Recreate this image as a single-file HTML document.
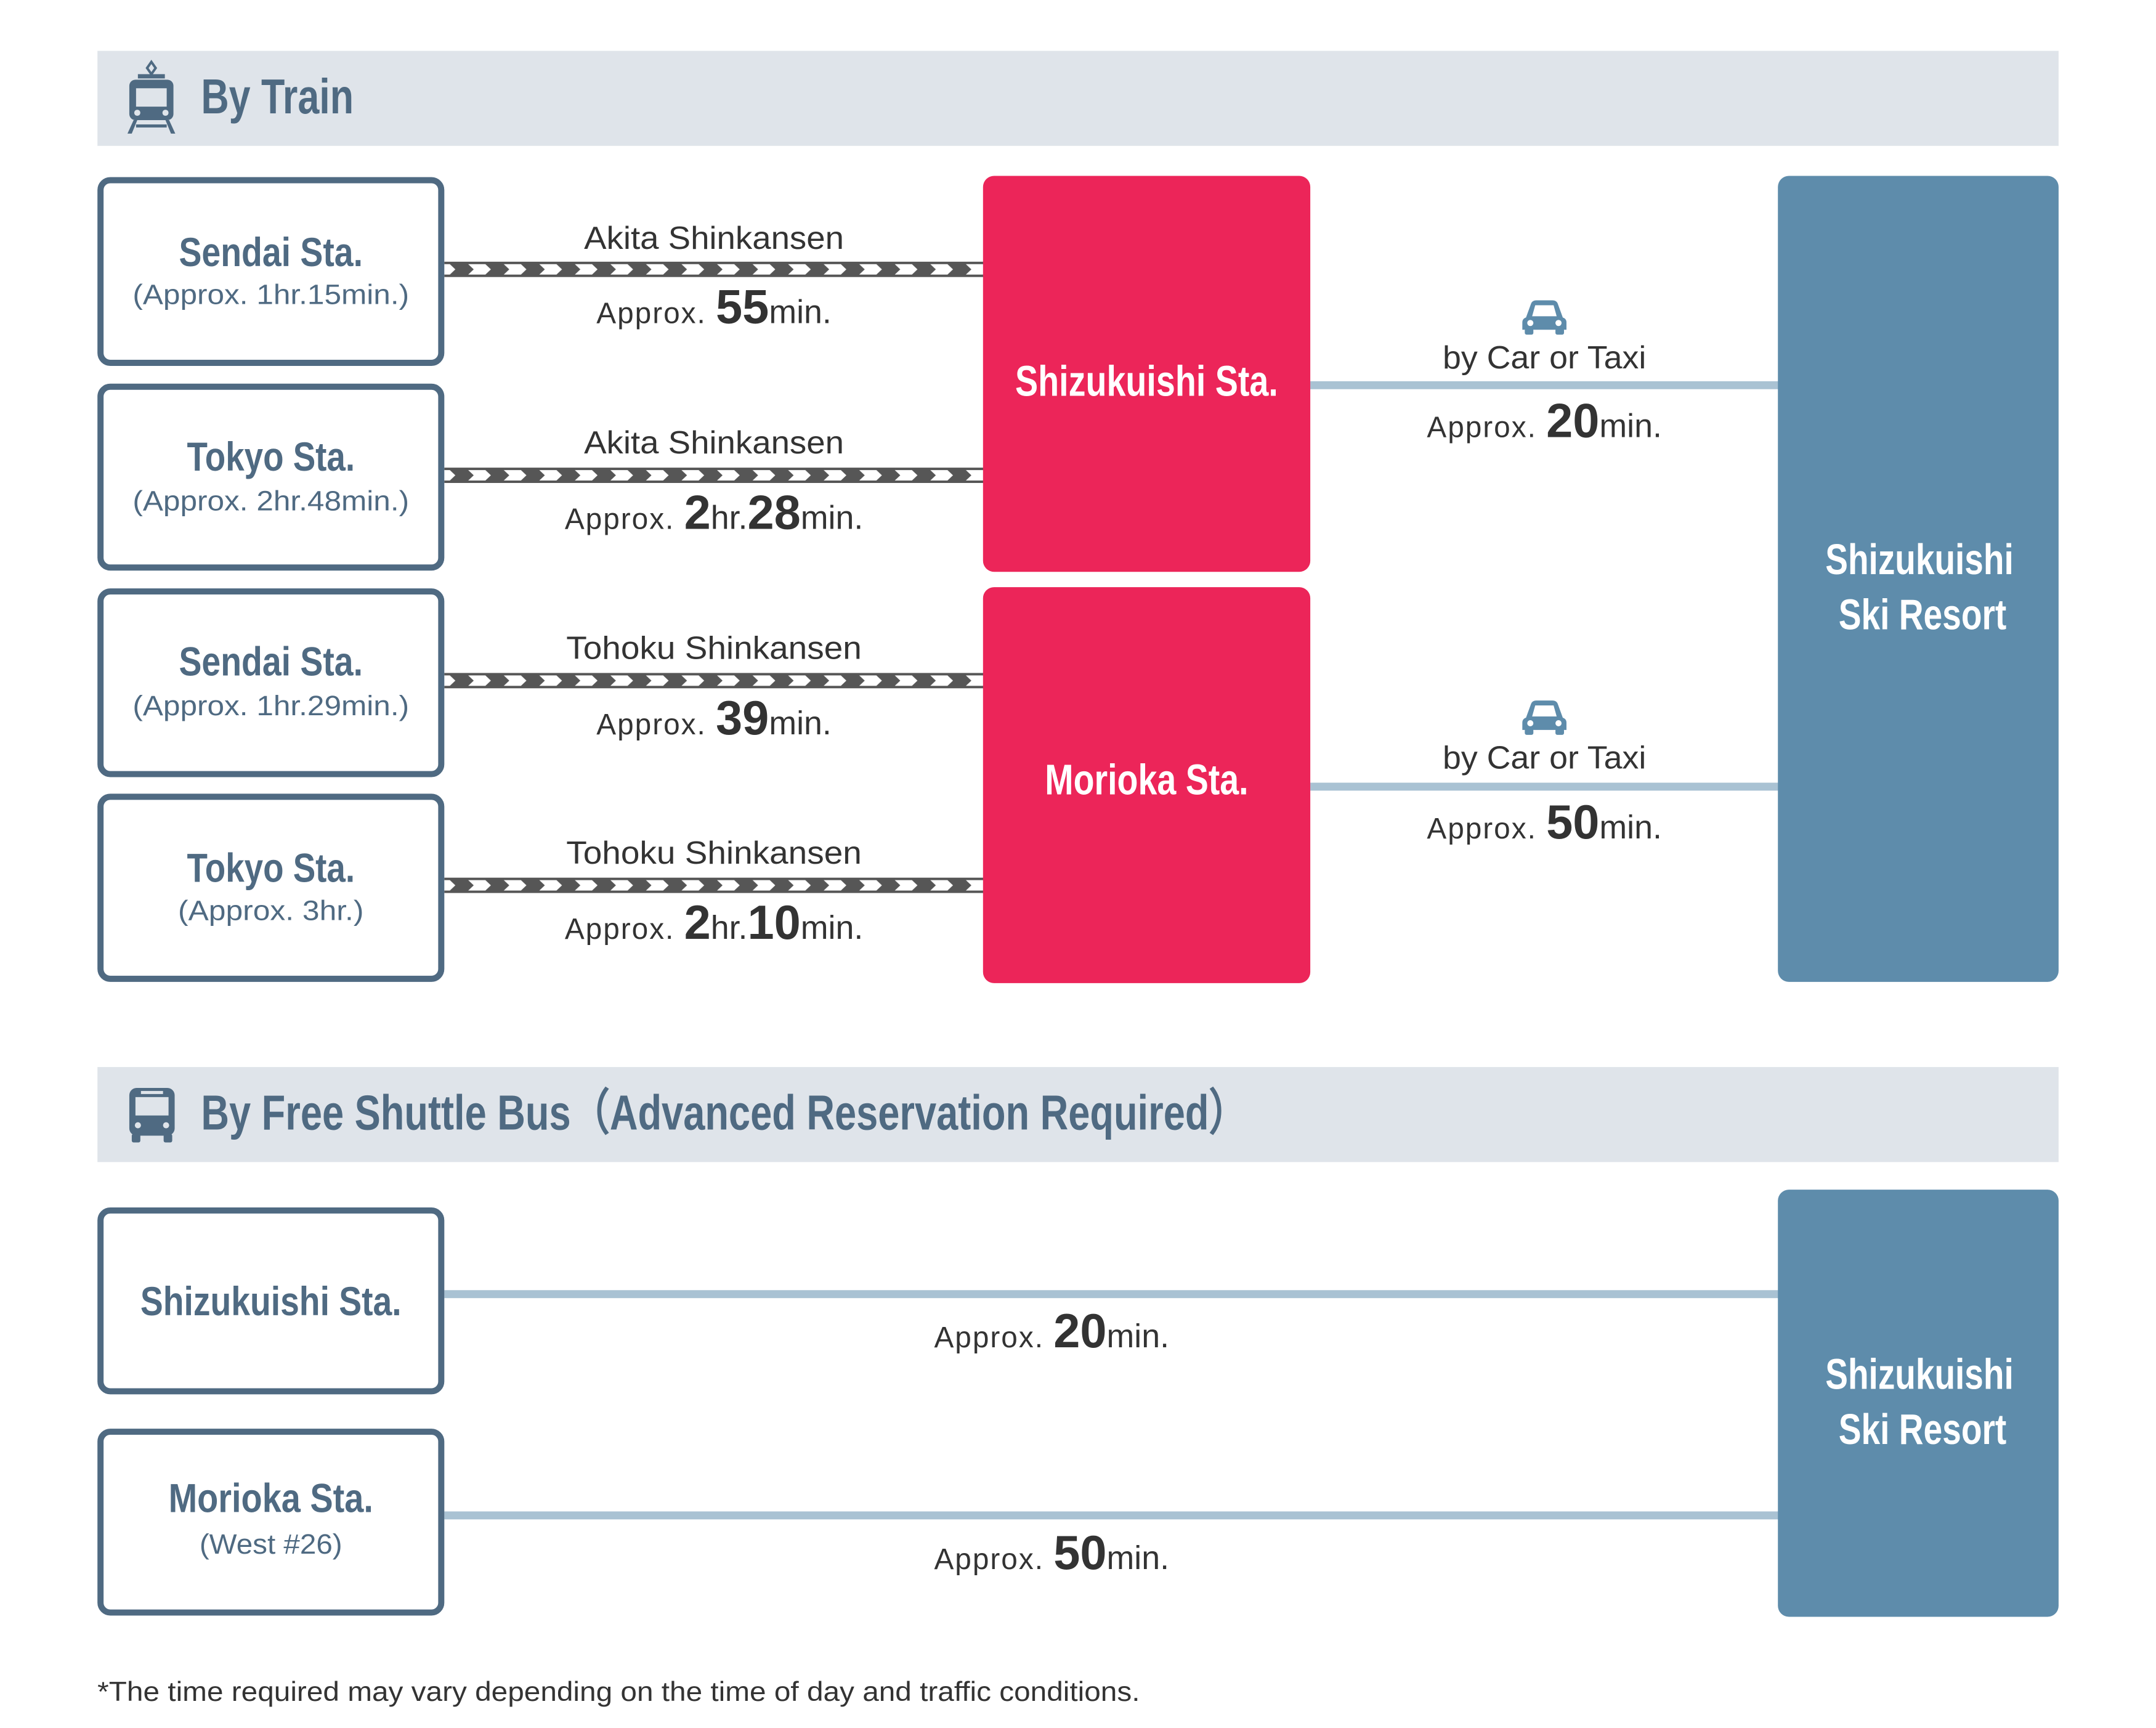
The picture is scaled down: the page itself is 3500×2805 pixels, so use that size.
<!DOCTYPE html>
<html><head><meta charset="utf-8"><style>
html,body{margin:0;padding:0;background:#fff;}
svg{display:block;}
text{font-family:"Liberation Sans",sans-serif;}
.st{fill:#4f6a82;font-weight:bold;font-size:66px;}
.sub{fill:#4f6a82;font-size:46px;}
.wt{fill:#fff;font-weight:bold;font-size:70px;}
.dk{fill:#333;font-size:52px;}
.ap{fill:#333;font-size:48px;letter-spacing:2px;}
.big{font-weight:bold;font-size:78px;letter-spacing:0;}
.mn{font-size:54px;letter-spacing:0;}
.hd{fill:#4f6a82;font-weight:bold;font-size:80px;}
</style></head><body>
<svg width="3500" height="2805" viewBox="0 0 3500 2805" xmlns="http://www.w3.org/2000/svg">
<defs>
<pattern id="chev" x="10" y="0" width="58" height="25" patternUnits="userSpaceOnUse">
<rect width="58" height="25" fill="#565656"/>
<polygon points="0,4 28,4 37,12.5 28,21 0,21 9,12.5" fill="#fff"/>
</pattern>
<g id="car"><path d="M-30,2 L-22,-20 Q-20,-26 -13,-26 L13,-26 Q20,-26 22,-20 L30,2 Q36,4 36,10 L36,22 L-36,22 L-36,10 Q-36,4 -30,2 Z" fill="#5e8cab"/><rect x="-32" y="20" width="14" height="10" rx="3" fill="#5e8cab"/><rect x="18" y="20" width="14" height="10" rx="3" fill="#5e8cab"/><path d="M-20,0 L-15,-18 L15,-18 L20,0 Z" fill="#fff"/><circle cx="-23" cy="11" r="5" fill="#fff"/><circle cx="23" cy="11" r="5" fill="#fff"/></g>
</defs>
<g transform="scale(0.9949)">
<!-- headers -->
<rect x="159" y="83" width="3200" height="155" fill="#dfe4ea"/>
<rect x="159" y="1741" width="3200" height="155" fill="#dfe4ea"/>
<!-- train icon -->
<g fill="#4f6a82">
<path d="M247,101 l7,10 l-7,10 l-7,-10z" fill="none" stroke="#4f6a82" stroke-width="4"/>
<rect x="225" y="121" width="44" height="7"/>
<rect x="211" y="130" width="72" height="66" rx="10"/>
<rect x="222" y="144" width="50" height="30" fill="#dfe4ea"/>
<circle cx="224" cy="184" r="5" fill="#dfe4ea"/><circle cx="270" cy="184" r="5" fill="#dfe4ea"/>
<path d="M218,196 l-10,22 h7 l9,-22z M276,196 l10,22 h-7 l-9,-22z"/>
<rect x="222" y="203" width="50" height="5"/>
</g>
<text class="hd" x="328" y="185" textLength="249" lengthAdjust="spacingAndGlyphs">By Train</text>
<!-- bus icon -->
<g fill="#4f6a82">
<rect x="211" y="1775" width="74" height="78" rx="12"/>
<rect x="221" y="1790" width="54" height="30" fill="#dfe4ea"/>
<rect x="230" y="1780" width="36" height="5" fill="#dfe4ea"/>
<circle cx="225" cy="1836" r="5" fill="#dfe4ea"/><circle cx="271" cy="1836" r="5" fill="#dfe4ea"/>
<rect x="215" y="1850" width="14" height="14" rx="3"/><rect x="267" y="1850" width="14" height="14" rx="3"/>
</g>
<text class="hd" x="328" y="1843" textLength="1708" lengthAdjust="spacingAndGlyphs">By Free Shuttle Bus（Advanced Reservation Required）</text>
<!-- rails -->
<rect x="725" y="0" width="880" height="25" fill="url(#chev)" transform="translate(0,427)"/>
<rect x="725" y="0" width="880" height="25" fill="url(#chev)" transform="translate(0,763)"/>
<rect x="725" y="0" width="880" height="25" fill="url(#chev)" transform="translate(0,1098)"/>
<rect x="725" y="0" width="880" height="25" fill="url(#chev)" transform="translate(0,1432)"/>
<!-- car lines -->
<rect x="2138" y="622" width="765" height="13" fill="#a9c2d3"/>
<rect x="2138" y="1277" width="765" height="13" fill="#a9c2d3"/>
<rect x="725" y="2105" width="2178" height="13" fill="#a9c2d3"/>
<rect x="725" y="2466" width="2178" height="13" fill="#a9c2d3"/>
<!-- left boxes -->
<g fill="#fff" stroke="#4f6a82" stroke-width="10">
<rect x="164" y="294" width="556" height="298" rx="16"/>
<rect x="164" y="631" width="556" height="295" rx="16"/>
<rect x="164" y="965" width="556" height="298" rx="16"/>
<rect x="164" y="1300" width="556" height="297" rx="16"/>
<rect x="164" y="1975" width="556" height="295" rx="16"/>
<rect x="164" y="2336" width="556" height="295" rx="16"/>
</g>
<!-- red boxes -->
<rect x="1604" y="287" width="534" height="646" rx="18" fill="#ec2559"/>
<rect x="1604" y="958" width="534" height="646" rx="18" fill="#ec2559"/>
<!-- resort -->
<rect x="2901" y="287" width="458" height="1315" rx="18" fill="#5e8cab"/>
<rect x="2901" y="1941" width="458" height="697" rx="18" fill="#5e8cab"/>
<!-- station texts -->
<g text-anchor="middle">
<text class="st" x="442" y="434" textLength="300" lengthAdjust="spacingAndGlyphs">Sendai Sta.</text>
<text class="sub" x="442" y="496" textLength="451" lengthAdjust="spacingAndGlyphs">(Approx. 1hr.15min.)</text>
<text class="st" x="442" y="768" textLength="274" lengthAdjust="spacingAndGlyphs">Tokyo Sta.</text>
<text class="sub" x="442" y="833" textLength="451" lengthAdjust="spacingAndGlyphs">(Approx. 2hr.48min.)</text>
<text class="st" x="442" y="1102" textLength="300" lengthAdjust="spacingAndGlyphs">Sendai Sta.</text>
<text class="sub" x="442" y="1167" textLength="451" lengthAdjust="spacingAndGlyphs">(Approx. 1hr.29min.)</text>
<text class="st" x="442" y="1439" textLength="274" lengthAdjust="spacingAndGlyphs">Tokyo Sta.</text>
<text class="sub" x="442" y="1501" textLength="303" lengthAdjust="spacingAndGlyphs">(Approx. 3hr.)</text>
<text class="st" x="442" y="2146" textLength="426" lengthAdjust="spacingAndGlyphs">Shizukuishi Sta.</text>
<text class="st" x="442" y="2467" textLength="334" lengthAdjust="spacingAndGlyphs">Morioka Sta.</text>
<text class="sub" x="442" y="2535" textLength="233" lengthAdjust="spacingAndGlyphs">(West #26)</text>

<text class="wt" x="1871" y="646" textLength="429" lengthAdjust="spacingAndGlyphs">Shizukuishi Sta.</text>
<text class="wt" x="1871" y="1296" textLength="332" lengthAdjust="spacingAndGlyphs">Morioka Sta.</text>
<text class="wt" x="3132" y="937" textLength="307" lengthAdjust="spacingAndGlyphs">Shizukuishi</text>
<text class="wt" x="3137" y="1027" textLength="274" lengthAdjust="spacingAndGlyphs">Ski Resort</text>
<text class="wt" x="3132" y="2266" textLength="307" lengthAdjust="spacingAndGlyphs">Shizukuishi</text>
<text class="wt" x="3137" y="2356" textLength="274" lengthAdjust="spacingAndGlyphs">Ski Resort</text>

<text class="dk" x="1165" y="406" textLength="424" lengthAdjust="spacingAndGlyphs">Akita Shinkansen</text>
<text class="dk" x="1165" y="740" textLength="424" lengthAdjust="spacingAndGlyphs">Akita Shinkansen</text>
<text class="dk" x="1165" y="1075" textLength="482" lengthAdjust="spacingAndGlyphs">Tohoku Shinkansen</text>
<text class="dk" x="1165" y="1409" textLength="482" lengthAdjust="spacingAndGlyphs">Tohoku Shinkansen</text>

<text class="ap" x="1165" y="527"><tspan>Approx. </tspan><tspan class="big">55</tspan><tspan class="mn">min.</tspan></text>
<text class="ap" x="1165" y="863"><tspan>Approx. </tspan><tspan class="big">2</tspan><tspan class="mn">hr.</tspan><tspan class="big">28</tspan><tspan class="mn">min.</tspan></text>
<text class="ap" x="1165" y="1198"><tspan>Approx. </tspan><tspan class="big">39</tspan><tspan class="mn">min.</tspan></text>
<text class="ap" x="1165" y="1532"><tspan>Approx. </tspan><tspan class="big">2</tspan><tspan class="mn">hr.</tspan><tspan class="big">10</tspan><tspan class="mn">min.</tspan></text>

<text class="dk" x="2520" y="601" textLength="332" lengthAdjust="spacingAndGlyphs">by Car or Taxi</text>
<text class="ap" x="2520" y="713"><tspan>Approx. </tspan><tspan class="big">20</tspan><tspan class="mn">min.</tspan></text>
<text class="dk" x="2520" y="1254" textLength="332" lengthAdjust="spacingAndGlyphs">by Car or Taxi</text>
<text class="ap" x="2520" y="1368"><tspan>Approx. </tspan><tspan class="big">50</tspan><tspan class="mn">min.</tspan></text>

<text class="ap" x="1716" y="2198"><tspan>Approx. </tspan><tspan class="big">20</tspan><tspan class="mn">min.</tspan></text>
<text class="ap" x="1716" y="2560"><tspan>Approx. </tspan><tspan class="big">50</tspan><tspan class="mn">min.</tspan></text>
</g>
<use href="#car" x="2520" y="516"/>
<use href="#car" x="2520" y="1169"/>
<text x="159" y="2775" fill="#333" font-size="45" textLength="1701" lengthAdjust="spacingAndGlyphs">*The time required may vary depending on the time of day and traffic conditions.</text>
</g>
</svg>
</body></html>
